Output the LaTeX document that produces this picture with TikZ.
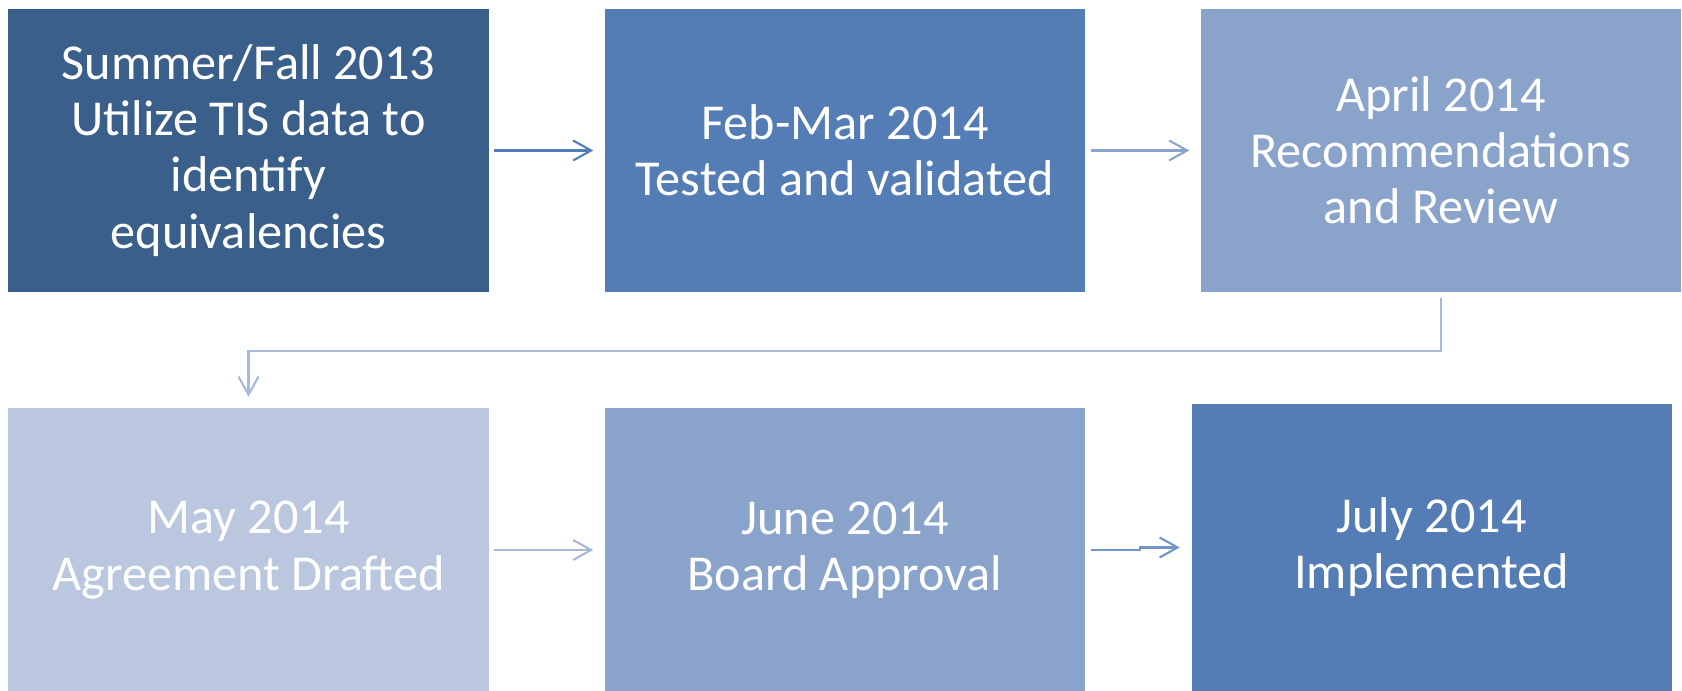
\documentclass[tikz,border=0pt]{standalone}
\usepackage{fontspec}
\setmainfont{Carlito}
\usetikzlibrary{arrows.meta}
\definecolor{stg1}{RGB}{59,95,139}
\definecolor{stg2}{RGB}{83,125,180}
\definecolor{stg3}{RGB}{138,163,202}
\definecolor{stg4}{RGB}{186,199,223}
\definecolor{lnk1}{RGB}{80,126,186}
\definecolor{lnk2}{RGB}{138,163,202}
\definecolor{lnk3}{RGB}{166,185,216}
\definecolor{lnk4}{RGB}{115,148,198}
\tikzset{stage/.style={fill=#1, text=white, minimum width=4.8cm, minimum height=2.83cm,
    inner sep=0pt, align=center, font=\fontsize{14.3}{16}\selectfont}}
\tikzset{flow/.style={draw=#1, line width=0.6pt, -{Straight Barb[length=1.8mm,width=2mm]},
    shorten <=0.05cm, shorten >=0.11cm}}

\begin{document}
\begin{tikzpicture}
\useasboundingbox (0,0) rectangle (16.82,6.91);
\node[stage=stg1] (s1) at (2.485,5.405) {Summer/Fall 2013\\Utilize TIS data to\\identify\\equivalencies};
\node[stage=stg2] (s2) at (8.45,5.405) {Feb-Mar 2014\\Tested and validated};
\node[stage=stg3] (s3) at (14.41,5.405) {April 2014\\Recommendations\\and Review};
\node[stage=stg4] (s4) at (2.485,1.41) {May 2014\\Agreement Drafted};
\node[stage=stg3] (s5) at (8.45,1.41) {June 2014\\Board Approval};
\node[stage=stg2,minimum height=2.87cm] (s6) at (14.315,1.435) {July 2014\\Implemented};
% links
\draw[flow=lnk1] (s1) -- (s2);
\draw[flow=lnk2] (s2) -- (s3);
\draw[flow=lnk3] (s3.south) -- ++(0,-0.58) -| (s4.north);
\draw[flow=lnk3] (s4) -- (s5);
\draw[flow=lnk4] (s5.east) -- ++(0.54,0) |- (s6.west);
\end{tikzpicture}
\end{document}
